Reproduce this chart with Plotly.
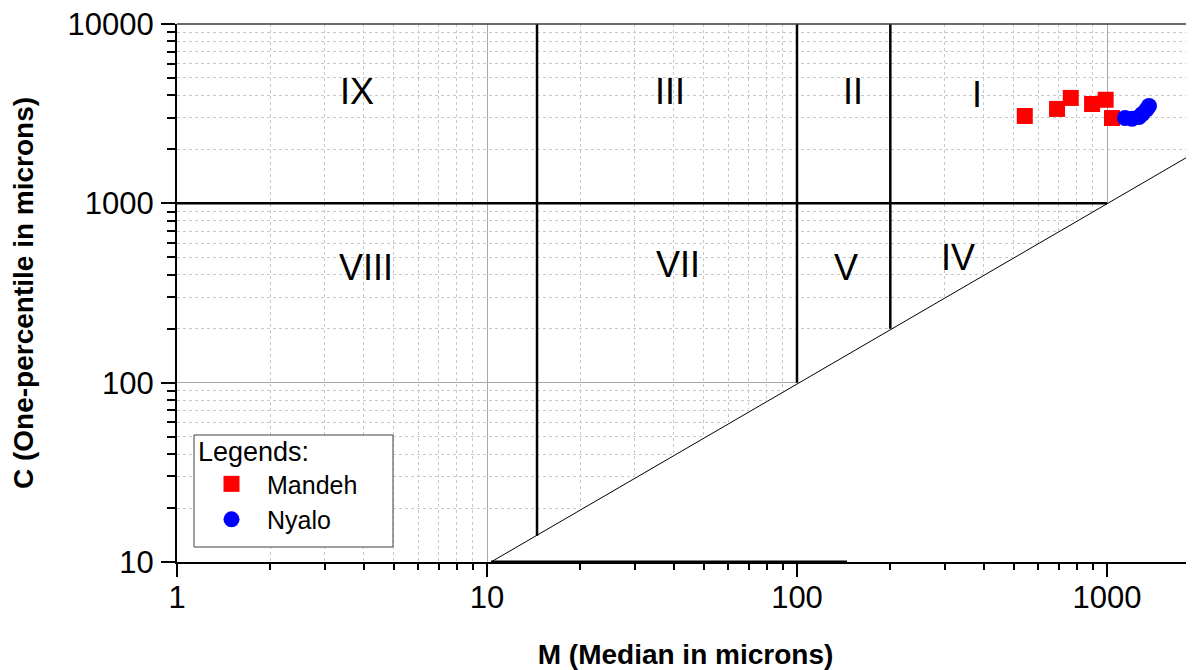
import math
import plotly.graph_objects as go

# ---- data ----
mandeh_M = [543, 690, 764, 895, 990, 1038]
mandeh_C = [3070, 3360, 3870, 3580, 3780, 2990]
nyalo_M = [1143, 1204, 1268, 1300, 1340, 1366]
nyalo_C = [2990, 2960, 3030, 3150, 3330, 3490]

region_labels = ["IX", "III", "II", "I", "VIII", "VII", "V", "IV"]
region_M = [3.81, 38.9, 151.7, 381, 4.07, 41.3, 144, 330]
region_C = [4180, 4180, 4180, 4020, 437, 454, 437, 497]

x_ticks = [1, 10, 100, 1000]
y_ticks = [10, 100, 1000, 10000]

# boundary segments of the CM diagram
seg_h1000_M = [1, 1000]
seg_h1000_C = [1000, 1000]
seg_v15_M = [14.5, 14.5]
seg_v15_C = [14, 10000]
seg_v100_M = [100, 100]
seg_v100_C = [100, 10000]
seg_v200_M = [200, 200]
seg_v200_C = [200, 10000]
seg_diag_M = [10.3, 3000]
seg_diag_C = [10, 3000]
seg_base_M = [10.3, 145]
seg_base_C = [10, 10]
fill_M = [10, 3000, 3000, 10]
fill_C = [10, 3000, 10, 10]

minor_x = [m * d for d in [1, 10, 100, 1000] for m in range(2, 10)]
minor_y = [m * d for d in [10, 100, 1000] for m in range(2, 10)]

FONT = "Liberation Sans, Arial, sans-serif"

# layout geometry (pixels); the page body adds an 8px margin
OFF = 8
W, H = 1194 - OFF, 670 - OFF
ML, MT, MB = 177 - OFF, 24 - OFF, 108
MR = 0
PW, PH = W - ML - MR, H - MT - MB

def px_x(p):
    return (p - OFF - ML) / PW

def px_y(p):
    return (H - MB - (p - OFF)) / PH

fig = go.Figure()

# white fill below the C = M line (hides grid there)
fig.add_trace(go.Scatter(x=fill_M, y=fill_C, mode="lines", fill="toself",
                         fillcolor="white", line=dict(width=0, color="white"),
                         showlegend=False, hoverinfo="skip"))

def seg(xs, ys, w):
    fig.add_trace(go.Scatter(x=xs, y=ys, mode="lines",
                             line=dict(color="black", width=w),
                             showlegend=False, hoverinfo="skip"))

seg(seg_diag_M, seg_diag_C, 1)
seg(seg_h1000_M, seg_h1000_C, 2.5)
seg(seg_v15_M, seg_v15_C, 2.5)
seg(seg_v100_M, seg_v100_C, 2.5)
seg(seg_v200_M, seg_v200_C, 2.5)
seg(seg_base_M, seg_base_C, 3)

fig.add_trace(go.Scatter(x=mandeh_M, y=mandeh_C, mode="markers", name="Mandeh",
                         marker=dict(symbol="square", size=16, color="#ff0000",
                                     line=dict(width=0))))
fig.add_trace(go.Scatter(x=nyalo_M, y=nyalo_C, mode="markers", name="Nyalo",
                         marker=dict(symbol="circle", size=16, color="#0000ff",
                                     line=dict(width=0))))

for t, m, c in zip(region_labels, region_M, region_C):
    fig.add_annotation(x=math.log10(m), y=math.log10(c), xref="x", yref="y",
                       text=t, showarrow=False,
                       font=dict(family=FONT, size=36, color="black"),
                       xanchor="center", yanchor="middle")

# top frame line
fig.add_shape(type="line", xref="paper", yref="paper", x0=0, x1=1, y0=1, y1=1,
              line=dict(color="#3a3a3a", width=1.5), layer="above")

# legend frame
fig.add_shape(type="rect", xref="paper", yref="paper",
              x0=px_x(194), x1=px_x(393), y0=px_y(547), y1=px_y(435),
              line=dict(color="#404040", width=1), fillcolor="white",
              layer="above")

fig.update_xaxes(
    type="log", range=[0, PW / 310], automargin=False,
    tickvals=x_ticks, ticktext=[str(v) for v in x_ticks],
    ticks="outside", ticklen=13, tickwidth=2, tickcolor="black",
    showline=True, linecolor="black", linewidth=2,
    showgrid=True, gridcolor="#a8a8a8", gridwidth=1,
    zeroline=False, ticklabeloverflow="allow",
    tickfont=dict(family=FONT, size=31, color="black"),
    ticklabelstandoff=-6,
    title=dict(text="<b>M (Median in microns)</b>",
               font=dict(family=FONT, size=28, color="black"), standoff=30),
    minor=dict(tickvals=minor_x, ticks="outside", ticklen=6, tickwidth=2,
               tickcolor="black", showgrid=True, gridcolor="#c8c8c8",
               griddash="dot", gridwidth=1),
)
fig.update_yaxes(
    type="log", range=[1, 4], automargin=False,
    tickvals=y_ticks, ticktext=[str(v) for v in y_ticks],
    ticks="outside", ticklen=14, tickwidth=2, tickcolor="black",
    showline=True, linecolor="black", linewidth=2,
    showgrid=True, gridcolor="#a8a8a8", gridwidth=1,
    zeroline=False, ticklabeloverflow="allow",
    tickfont=dict(family=FONT, size=31, color="black"),
    ticklabelstandoff=1,
    title=dict(text="<b>C (One-percentile in microns)</b>",
               font=dict(family=FONT, size=28, color="black"), standoff=28),
    minor=dict(tickvals=minor_y, ticks="outside", ticklen=8, tickwidth=2,
               tickcolor="black", showgrid=True, gridcolor="#c8c8c8",
               griddash="dot", gridwidth=1),
)

fig.update_layout(
    width=W, height=H,
    margin=dict(l=ML, r=MR, t=MT, b=MB),
    paper_bgcolor="white", plot_bgcolor="white",
    font=dict(family=FONT, color="black"),
    legend=dict(
        title=dict(text="Legends:", font=dict(family=FONT, size=27, color="black")),
        font=dict(family=FONT, size=25, color="black"),
        x=px_x(196), y=px_y(426),
        xanchor="left", yanchor="top",
        bgcolor="rgba(0,0,0,0)", borderwidth=0,
        itemwidth=61, tracegroupgap=0,
    ),
)

fig.write_html("out.html")
